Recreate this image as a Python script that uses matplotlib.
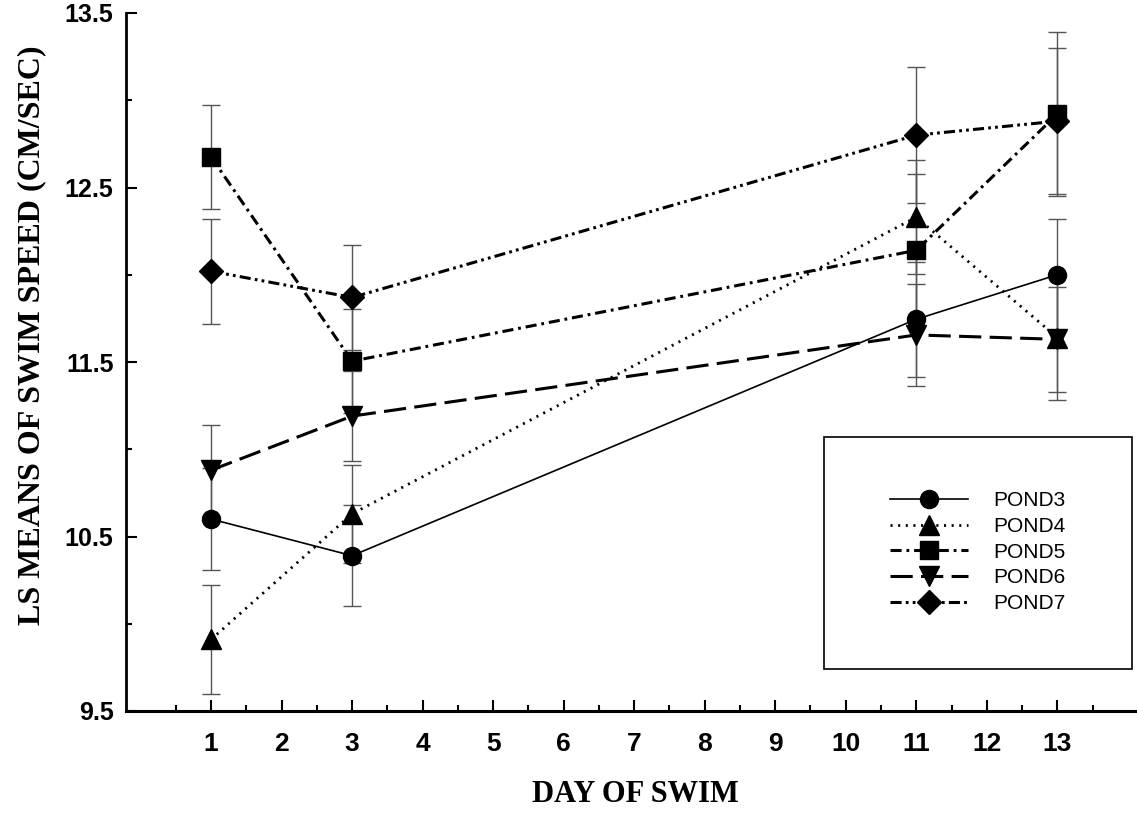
import numpy as np
import matplotlib
matplotlib.use("Agg")
import matplotlib.pyplot as plt
from matplotlib.patches import Rectangle

plt.rcParams['lines.scale_dashes'] = False

# data
days = [1, 3, 11, 13]
labels = ['POND3', 'POND4', 'POND5', 'POND6', 'POND7']
pond3 = [10.60, 10.39, 11.745, 12.00]
pond4 = [9.91, 10.63, 12.33, 11.64]
pond5 = [12.675, 11.505, 12.14, 12.92]
pond6 = [10.88, 11.19, 11.655, 11.63]
pond7 = [12.02, 11.87, 12.80, 12.88]
err3 = [0.29, 0.29, 0.33, 0.32]
err4 = [0.31, 0.28, 0.325, 0.36]
err5 = [0.30, 0.30, 0.44, 0.47]
err6 = [0.26, 0.26, 0.29, 0.30]
err7 = [0.30, 0.30, 0.39, 0.42]

series = [pond3, pond4, pond5, pond6, pond7]
errors = [err3, err4, err5, err6, err7]
markers = ['o', '^', 's', 'v', 'D']
msizes = [13, 15, 13, 15, 12.5]
styles = ['-', (0, (1.5, 4)), (0, (8, 3.5, 2, 3.5)), (0, (16, 6)), (0, (8, 3, 2, 3, 2, 3))]
widths = [1.2, 2.0, 2.2, 2.2, 2.2]

W, H = 1137, 814
fig = plt.figure(figsize=(W / 100, H / 100), dpi=100)
ax = fig.add_axes([126 / W, 103 / H, 1011 / W, 698 / H])

# error bars first
for vals, err in zip(series, errors):
    ax.errorbar(days, vals, yerr=err, fmt='none', ecolor='#555555',
                elinewidth=1.0, capsize=6.8, capthick=1.0, zorder=1)

for vals, lab, m, ms, ls, lw in zip(series, labels, markers, msizes, styles, widths):
    ax.plot(days, vals, color='black', linestyle=ls, linewidth=lw,
            marker=m, markersize=ms, markerfacecolor='black',
            markeredgecolor='black', label=lab, zorder=3)

ax.set_xlim(-0.206, 14.13)
ax.set_ylim(9.5, 13.5)
ax.set_xticks(range(1, 14))
ax.set_xticks(np.arange(0.5, 14, 1), minor=True)
ax.set_yticks([9.5, 10.5, 11.5, 12.5, 13.5])
ax.set_yticks([10, 11, 12, 13], minor=True)
ax.set_yticklabels(['9.5', '10.5', '11.5', '12.5', '13.5'])

for s in ['top', 'right']:
    ax.spines[s].set_visible(False)
ax.spines['left'].set_linewidth(2.0)
ax.spines['bottom'].set_linewidth(2.2)

ax.tick_params(axis='both', which='both', direction='in', width=1.5)
ax.tick_params(axis='x', which='major', length=8, pad=15)
ax.tick_params(axis='x', which='minor', length=4)
ax.tick_params(axis='y', which='major', length=8, pad=9)
ax.tick_params(axis='y', which='minor', length=4)
for t in ax.get_xticklabels():
    t.set_fontfamily('Liberation Sans')
    t.set_fontweight('bold')
    t.set_fontsize(19)
for t in ax.get_yticklabels():
    t.set_fontfamily('Liberation Sans')
    t.set_fontweight('bold')
    t.set_fontsize(18)

fig.text(635 / W, 1 - 795 / H, 'DAY OF SWIM', ha='center', va='center',
         fontfamily='Liberation Serif', fontweight='bold', fontsize=22)
fig.text(32 / W, 1 - 335 / H, 'LS MEANS OF SWIM SPEED (CM/SEC)', ha='center',
         va='center', rotation=90, fontfamily='Liberation Serif',
         fontweight='bold', fontsize=23)

# legend box
fig.patches.append(Rectangle((824 / W, 1 - 669 / H), 308 / W, 232 / H,
                             transform=fig.transFigure, fill=False,
                             edgecolor='black', linewidth=1.2))
leg = fig.legend(loc='center left', bbox_to_anchor=(890 / W, 1 - 552 / H),
                 frameon=False, prop={'family': 'Liberation Sans', 'size': 15},
                 handlelength=3.75, handletextpad=1.2, labelspacing=0.32,
                 borderpad=0, borderaxespad=0)

fig.savefig('out.png', dpi=100)
